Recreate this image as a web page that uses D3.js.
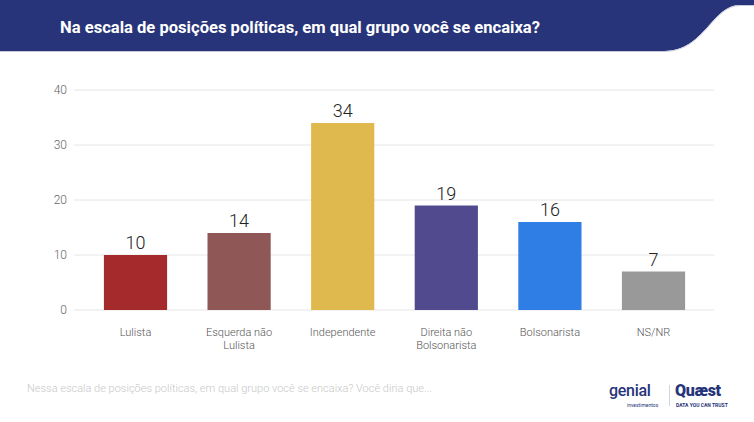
<!DOCTYPE html>
<html><head><meta charset="utf-8">
<script src="https://cdn.jsdelivr.net/npm/d3@7"></script>
<style>html,body{margin:0;padding:0;background:#fff;}svg{display:block;font-family:Roboto,"Open Sans",sans-serif;}</style>
</head><body>
<svg id="c" width="754" height="422"></svg>
<script>
const categories = [["Lulista"],["Esquerda não","Lulista"],["Independente"],["Direita não","Bolsonarista"],["Bolsonarista"],["NS/NR"]];
const values = [10,14,34,19,16,7];
const colors = ["#a42a2b","#8f5756","#e0b94e","#524a8e","#2f7ee6","#999999"];
const yTicks = [0,10,20,30,40];
const title = "Na escala de posições políticas, em qual grupo você se encaixa?";
const footnote = "Nessa escala de posições políticas, em qual grupo você se encaixa? Você diria que...";

const svg = d3.select("#c");
// header band
svg.append("path")
  .attr("d","M0,0 H754 V5 H740 C712,5 705,50 665,51 H0 Z")
  .attr("fill","#27347a");
svg.append("path")
  .attr("d","M0,51.5 H665 C705,50.5 712,5.5 740,5.5 H754")
  .attr("fill","none").attr("stroke","#c9cbd8").attr("stroke-width",1);
svg.append("text").attr("x",60).attr("y",33)
  .attr("fill","#fff").attr("font-size",17).attr("font-weight",700)
  .attr("textLength",480).attr("lengthAdjust","spacingAndGlyphs")
  .text(title);

const idx = d3.range(values.length);
const x = d3.scaleBand().domain(idx).range([83.7,705.3]).paddingInner(0.39).paddingOuter(0.195);
const y = d3.scaleLinear().domain([0,40]).range([310,90]);

const g = svg.append("g");
g.selectAll("line.grid").data(yTicks).join("line")
  .attr("x1",74).attr("x2",714).attr("y1",d=>y(d)).attr("y2",d=>y(d))
  .attr("stroke","#e6e6e6").attr("stroke-width",1);
g.selectAll("text.yt").data(yTicks).join("text")
  .attr("x",67).attr("y",d=>y(d)+4).attr("text-anchor","end")
  .attr("font-size",12).attr("fill","#666").attr("font-weight",300).text(d=>d);

g.selectAll("rect.bar").data(values).join("rect")
  .attr("x",(d,i)=>x(i)).attr("width",x.bandwidth())
  .attr("y",d=>y(d)).attr("height",d=>y(0)-y(d))
  .attr("fill",(d,i)=>colors[i]);

g.selectAll("text.val").data(values).join("text")
  .attr("x",(d,i)=>x(i)+x.bandwidth()/2).attr("y",d=>y(d)-6)
  .attr("text-anchor","middle").attr("font-size",18).attr("font-weight",300)
  .attr("fill","#222").text(d=>d);

const lab = g.selectAll("text.cat").data(categories).join("text")
  .attr("text-anchor","middle").attr("font-size",11).attr("font-weight",300).attr("fill","#555");
lab.each(function(d,i){
  const t = d3.select(this);
  d.forEach((line,j)=>{
    t.append("tspan").attr("x",x(i)+x.bandwidth()/2).attr("y",336+j*12.5).text(line);
  });
});

svg.append("text").attr("x",27).attr("y",392).attr("font-size",11).attr("font-weight",300)
  .attr("fill","#c8c8c8").text(footnote);

// logos
const lg = svg.append("g");
lg.append("text").attr("x",609).attr("y",396).attr("font-size",16).attr("font-weight",500)
  .attr("fill","#27347a").attr("letter-spacing",-0.3).text("genial");
lg.append("text").attr("x",627).attr("y",407).attr("font-size",5).attr("fill","#27347a").text("investimentos");
lg.append("line").attr("x1",669.5).attr("x2",669.5).attr("y1",385).attr("y2",406).attr("stroke","#d0d3e0");
lg.append("text").attr("x",675).attr("y",396).attr("font-size",16).attr("font-weight",900)
  .attr("fill","#27347a").attr("letter-spacing",-0.3).text("Quæst");
lg.append("text").attr("x",676).attr("y",407).attr("font-size",5).attr("font-weight",700)
  .attr("fill","#27347a").text("DATA YOU CAN TRUST");
</script>
</body></html>
